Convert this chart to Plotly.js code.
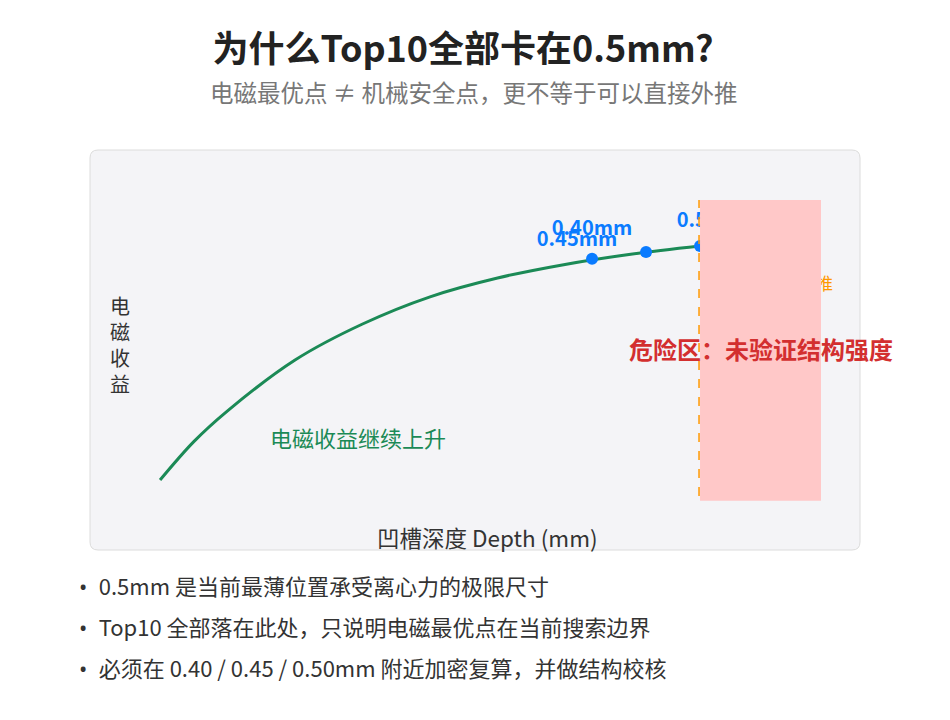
<!DOCTYPE html>
<html>
<head>
<meta charset="utf-8">
<script src="https://cdn.plot.ly/plotly-3.0.1.min.js"></script>
<style>
  html, body { margin: 0; padding: 0; background: #ffffff; }
  #plot { width: 950px; height: 720px; }
</style>
</head>
<body>
<div id="plot"></div>
<script>
// gain curve (depth in mm, gain in arbitrary units)
const depth = [0.10, 0.125, 0.15, 0.20, 0.25, 0.30, 0.35, 0.40, 0.45, 0.50];
const gain = [17.5, 27.1, 34.8, 47.5, 56.5, 63.3, 68.0, 71.4, 74.0, 76.0];

// the three highlighted candidates
const markDepth = [0.42, 0.46, 0.50];
const markGain = [72.8, 74.5, 76.0];
const markLabels = ['0.45mm', '0.40mm', '0.50mm'];

const bullets = [
    '0.5mm 是当前最薄位置承受离心力的极限尺寸',
    'Top10 全部落在此处，只说明电磁最优点在当前搜索边界',
    '必须在 0.40 / 0.45 / 0.50mm 附近加密复算，并做结构校核'
];

const dangerStart = 0.50;
const dangerEnd = 0.5896;

// plot area geometry (px)
const L = 90, R = 860, T = 150, B = 550;
const xRange = [0.0481, 0.6185];
const yRange = [0, 100];
const pxX = (xRange[1] - xRange[0]) / (R - L);
const pxY = (yRange[1] - yRange[0]) / (B - T);
const X = px => (px - L) / (R - L);   // paper coords
const Y = py => (B - py) / (B - T);

const font = '"Noto Sans CJK SC", "Noto Sans", sans-serif';

// label offsets from their markers, in px
const labelShift = [[-15, -18], [-54, -22], [17, -24]];

const curve = {
    x: depth,
    y: gain,
    mode: 'lines',
    line: { color: '#1b8a56', width: 3, shape: 'spline' },
    hoverinfo: 'skip'
};

const marks = {
    x: markDepth,
    y: markGain,
    mode: 'markers',
    marker: { color: '#0a7bff', size: 12 },
    hoverinfo: 'skip'
};

const markText = {
    x: markDepth.map((d, i) => d + labelShift[i][0] * pxX),
    y: markGain.map((g, i) => g - labelShift[i][1] * pxY),
    text: markLabels,
    mode: 'text',
    textposition: 'middle center',
    textfont: { family: font, size: 20, color: '#0a7bff', weight: 'bold' },
    hoverinfo: 'skip'
};

const hiddenNote = {
    x: [dangerEnd + 12 * pxX],
    y: [66],
    text: ['不可直接外推'],
    mode: 'text',
    textposition: 'middle left',
    textfont: { family: font, size: 17, color: '#ff9800' },
    hoverinfo: 'skip'
};

const rx = 8 / (R - L), ry = 8 / (B - T);
const cardPath = `M ${rx},0 L ${1 - rx},0 Q 1,0 1,${ry} L 1,${1 - ry} Q 1,1 ${1 - rx},1 ` +
    `L ${rx},1 Q 0,1 0,${1 - ry} L 0,${ry} Q 0,0 ${rx},0 Z`;

function note(text, px, py, size, color, anchor) {
    return {
        text: text,
        xref: 'paper', yref: 'paper', x: X(px), y: Y(py),
        xanchor: anchor || 'center', yanchor: 'middle',
        showarrow: false, font: { family: font, size: size, color: color }
    };
}

const annotations = [
    note('电磁最优点 ≠ 机械安全点，更不等于可以直接外推', 474, 92, 23.5, '#777777'),
    note('电<br>磁<br>收<br>益', 120, 344, 20, '#333333'),
    note('凹槽深度 Depth (mm)', 487, 537, 22.5, '#333333'),
    note('电磁收益继续上升', 358, 437, 22, '#1b8a56'),
    note('<b>危险区：未验证结构强度</b>', 761, 348, 24, '#d32f2f')
];

bullets.forEach((b, i) => {
    const dot = '<span style="font-family:\'Noto Sans\', sans-serif">•  </span>';
    annotations.push(note(dot + b, 77, 585 + i * 41, 22, '#333333', 'left'));
});

const layout = {
    width: 950,
    height: 720,
    margin: { l: L, r: 950 - R, t: T, b: 720 - B, pad: 0 },
    paper_bgcolor: '#ffffff',
    plot_bgcolor: 'rgba(0,0,0,0)',
    showlegend: false,
    title: {
        text: '<b>为什么Top10全部卡在0.5mm?</b>',
        x: 463 / 950, xanchor: 'center',
        y: 1 - 49 / 720, yanchor: 'middle', yref: 'container',
        font: { family: font, size: 36, color: '#222222' }
    },
    xaxis: {
        range: xRange, showgrid: false, zeroline: false,
        showticklabels: false, showline: false, ticks: '', fixedrange: true
    },
    yaxis: {
        range: yRange, showgrid: false, zeroline: false,
        showticklabels: false, showline: false, ticks: '', fixedrange: true
    },
    shapes: [
        {
            type: 'path', xref: 'paper', yref: 'paper', path: cardPath,
            fillcolor: '#f4f4f7', line: { color: '#dcdcdc', width: 1 }, layer: 'below'
        },
        {
            type: 'rect', xref: 'x', yref: 'y',
            x0: dangerStart, x1: dangerEnd, y0: 12.3, y1: 87.5,
            fillcolor: '#ffc8c8', line: { width: 0 }, layer: 'above'
        },
        {
            type: 'line', xref: 'x', yref: 'y',
            x0: dangerStart - 1 * pxX, x1: dangerStart - 1 * pxX, y0: 13.5, y1: 87.5,
            line: { color: '#ff9800', width: 1.5, dash: 'dash' }, layer: 'above'
        }
    ],
    annotations: annotations
};

const config = { displayModeBar: false, staticPlot: true };

Plotly.newPlot('plot', [curve, marks, markText, hiddenNote], layout, config);
</script>
</body>
</html>
